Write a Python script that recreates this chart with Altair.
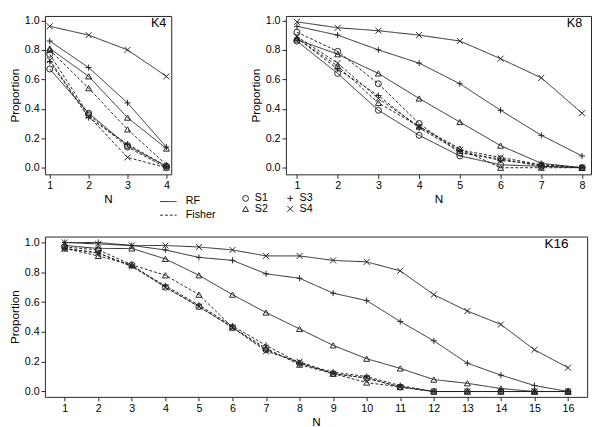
import altair as alt
import pandas as pd

# ---- data ----
N_K4 = [1, 2, 3, 4]
K4_RF_S1 = [0.67, 0.37, 0.15, 0.01]
K4_RF_S2 = [0.81, 0.62, 0.34, 0.13]
K4_RF_S3 = [0.86, 0.68, 0.44, 0.14]
K4_RF_S4 = [0.96, 0.90, 0.80, 0.62]
K4_FI_S1 = [0.77, 0.36, 0.14, 0.00]
K4_FI_S2 = [0.80, 0.54, 0.26, 0.02]
K4_FI_S3 = [0.72, 0.34, 0.16, 0.01]
K4_FI_S4 = [0.73, 0.35, 0.07, 0.00]

N_K8 = [1, 2, 3, 4, 5, 6, 7, 8]
K8_RF_S1 = [0.86, 0.64, 0.39, 0.22, 0.08, 0.02, 0.01, 0.00]
K8_RF_S2 = [0.87, 0.77, 0.64, 0.47, 0.31, 0.15, 0.03, 0.00]
K8_RF_S3 = [0.96, 0.90, 0.80, 0.71, 0.57, 0.39, 0.22, 0.08]
K8_RF_S4 = [0.99, 0.95, 0.93, 0.90, 0.86, 0.74, 0.61, 0.37]
K8_FI_S1 = [0.92, 0.79, 0.57, 0.30, 0.10, 0.06, 0.01, 0.00]
K8_FI_S2 = [0.88, 0.69, 0.44, 0.28, 0.13, 0.00, 0.00, 0.00]
K8_FI_S3 = [0.88, 0.67, 0.49, 0.27, 0.11, 0.05, 0.02, 0.00]
K8_FI_S4 = [0.89, 0.71, 0.47, 0.28, 0.12, 0.07, 0.02, 0.00]

N_K16 = list(range(1, 17))
K16_RF_S2 = [0.98, 0.96, 0.96, 0.89, 0.78, 0.65, 0.53, 0.42, 0.31, 0.22, 0.155, 0.08, 0.055, 0.02, 0.00, 0.00]
K16_RF_S3 = [1.00, 1.00, 0.98, 0.95, 0.90, 0.88, 0.79, 0.76, 0.66, 0.61, 0.47, 0.34, 0.19, 0.11, 0.04, 0.00]
K16_RF_S4 = [1.00, 0.99, 0.98, 0.98, 0.97, 0.95, 0.91, 0.91, 0.88, 0.87, 0.81, 0.65, 0.54, 0.45, 0.28, 0.16]
K16_FI_S1 = [0.97, 0.95, 0.85, 0.70, 0.57, 0.43, 0.28, 0.19, 0.12, 0.09, 0.03, 0.00, 0.00, 0.00, 0.00, 0.00]
K16_FI_S2 = [0.96, 0.91, 0.85, 0.78, 0.65, 0.43, 0.29, 0.18, 0.12, 0.06, 0.03, 0.00, 0.00, 0.00, 0.00, 0.00]
K16_FI_S3 = [0.96, 0.93, 0.84, 0.71, 0.58, 0.44, 0.31, 0.19, 0.13, 0.10, 0.04, 0.00, 0.00, 0.00, 0.00, 0.00]
K16_FI_S4 = [0.96, 0.93, 0.84, 0.70, 0.57, 0.43, 0.27, 0.20, 0.12, 0.09, 0.03, 0.00, 0.00, 0.00, 0.00, 0.00]

METHODS = ["RF", "Fisher"]
SERIES = ["S1", "S2", "S3", "S4"]
SHAPES = ["circle", "triangle-up", "M-1,0L1,0M0,-1L0,1", "M-1,-1L1,1M-1,1L1,-1"]

FONT = "Liberation Sans"
INK = "#222222"


def table(n, series):
    rows = []
    for (method, s), vals in series.items():
        for x, v in zip(n, vals):
            rows.append({"N": x, "P": v, "method": method, "series": s, "key": method + s})
    return pd.DataFrame(rows)


df4 = table(N_K4, {("RF", "S1"): K4_RF_S1, ("RF", "S2"): K4_RF_S2, ("RF", "S3"): K4_RF_S3, ("RF", "S4"): K4_RF_S4,
                   ("Fisher", "S1"): K4_FI_S1, ("Fisher", "S2"): K4_FI_S2, ("Fisher", "S3"): K4_FI_S3, ("Fisher", "S4"): K4_FI_S4})
df8 = table(N_K8, {("RF", "S1"): K8_RF_S1, ("RF", "S2"): K8_RF_S2, ("RF", "S3"): K8_RF_S3, ("RF", "S4"): K8_RF_S4,
                   ("Fisher", "S1"): K8_FI_S1, ("Fisher", "S2"): K8_FI_S2, ("Fisher", "S3"): K8_FI_S3, ("Fisher", "S4"): K8_FI_S4})
df16 = table(N_K16, {("RF", "S2"): K16_RF_S2, ("RF", "S3"): K16_RF_S3, ("RF", "S4"): K16_RF_S4,
                     ("Fisher", "S1"): K16_FI_S1, ("Fisher", "S2"): K16_FI_S2, ("Fisher", "S3"): K16_FI_S3, ("Fisher", "S4"): K16_FI_S4})

dash_scale = alt.Scale(domain=METHODS, range=[[1, 0], [3, 2]])
shape_scale = alt.Scale(domain=SERIES, range=SHAPES)

H_TOP = 163
dash_legend = alt.Legend(orient="none", legendX=118, legendY=H_TOP + 19, title=None, symbolType="stroke",
                         symbolSize=289, symbolStrokeWidth=1, symbolStrokeColor=INK, labelOffset=9,
                         labelFont=FONT, labelFontSize=11, labelColor="black", rowPadding=-5, padding=0)
shape_legend = alt.Legend(orient="none", legendX=201, legendY=H_TOP + 19, title=None, columns=2,
                          symbolSize=36, symbolStrokeWidth=1, symbolStrokeColor=INK, symbolFillColor="transparent",
                          labelOffset=4, labelFont=FONT, labelFontSize=11, labelColor="black",
                          rowPadding=-1, columnPadding=17, padding=0)


def panel(df, label, nmax, xdom, ydom, w, h, fs, inset, first=False):
    x = alt.X("N:Q", title="N", scale=alt.Scale(domain=xdom, nice=False, zero=False),
              axis=alt.Axis(values=list(range(1, nmax + 1)), format="d"))
    y = alt.Y("P:Q", title="Proportion", scale=alt.Scale(domain=ydom, nice=False, zero=False),
              axis=alt.Axis(values=[0, 0.2, 0.4, 0.6, 0.8, 1.0], format=".1f"))
    base = alt.Chart(df)
    lines = base.mark_line(strokeWidth=1, color=INK).encode(
        x=x, y=y, detail="key:N",
        strokeDash=alt.StrokeDash("method:N", scale=dash_scale, legend=dash_legend if first else None),
    )
    pts = base.mark_point(filled=False, strokeWidth=1, color=INK, opacity=1, size=38).encode(
        x=x, y=y,
        shape=alt.Shape("series:N", scale=shape_scale, legend=shape_legend if first else None),
    )
    lab = alt.Chart(pd.DataFrame({"t": [label]})).mark_text(
        align="right", baseline="top", font=FONT, fontSize=fs, color="black"
    ).encode(x=alt.value(w - inset), y=alt.value(1), text="t:N")
    return alt.layer(lines, pts, lab).properties(width=w, height=h)


k4 = panel(df4, "K4", 4, [0.876, 4.124], [-0.045, 1.03], 130, H_TOP, 13, 5, first=True)
k8 = panel(df8, "K8", 8, [0.73, 8.22], [-0.045, 1.03], 314, H_TOP, 13, 9)
k16 = panel(df16, "K16", 16, [0.41, 16.57], [-0.036, 1.04], 558, 165, 14, 19)

chart = alt.vconcat(
    alt.hconcat(k4, k8, spacing=79),
    k16,
    spacing=31,
).properties(padding=0).configure_view(
    stroke=INK, strokeWidth=1
).configure_axis(
    domain=False, grid=False, tickColor=INK, tickSize=4, labelPadding=2,
    labelFont=FONT, labelFontSize=11, labelColor="black",
    titleFont=FONT, titleFontSize=12, titleFontWeight="normal", titleColor="black", titlePadding=3,
)

chart.save("out.html", embed_options={"renderer": "svg", "actions": False})
